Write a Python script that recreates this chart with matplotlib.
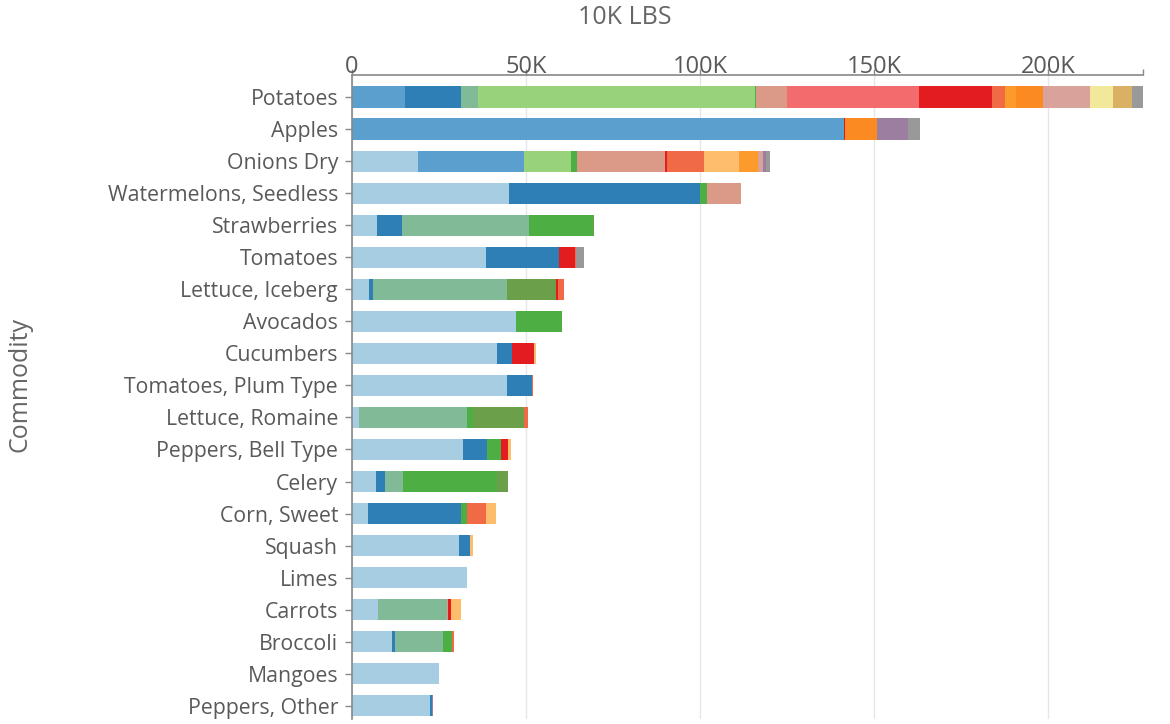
import matplotlib
matplotlib.use("Agg")
import matplotlib.pyplot as plt
import numpy as np
from matplotlib.ticker import FixedLocator

plt.rcParams['font.family'] = ['Open Sans', 'DejaVu Sans']

commodities = ["Potatoes", "Apples", "Onions Dry", "Watermelons, Seedless", "Strawberries",
               "Tomatoes", "Lettuce, Iceberg", "Avocados", "Cucumbers", "Tomatoes, Plum Type",
               "Lettuce, Romaine", "Peppers, Bell Type", "Celery", "Corn, Sweet", "Squash",
               "Limes", "Carrots", "Broccoli", "Mangoes", "Peppers, Other"]

# segment values (thousands of 10K lbs), one list per origin group, in stacking order
seg_light_blue  = [0, 0, 19.0, 45.0, 7.2, 38.4, 5.0, 47.0, 41.6, 44.5, 2.0, 31.8, 6.8, 4.6, 30.8, 33.0, 7.5, 11.4, 25.0, 22.5]
seg_mid_blue    = [15.2, 141.3, 30.5, 0, 0, 0, 0, 0, 0, 0, 0, 0, 0, 0, 0, 0, 0, 0, 0, 0]
seg_dark_blue   = [16.1, 0, 0, 55.0, 7.2, 21.1, 1.0, 0, 4.5, 7.2, 0, 6.9, 2.7, 26.7, 3.2, 0, 0, 1.0, 0, 0.5]
seg_muted_green = [5.0, 0, 0, 0, 36.6, 0, 38.5, 0, 0, 0, 31.0, 0, 5.1, 0, 0, 0, 19.7, 13.8, 0, 0]
seg_light_green = [79.5, 0, 13.4, 0, 0, 0, 0, 0, 0, 0, 0, 0, 0, 0, 0, 0, 0, 0, 0, 0]
seg_green       = [0.4, 0, 1.8, 2.0, 18.3, 0, 0, 13.3, 0, 0, 1.9, 4.1, 27.0, 1.7, 0, 0, 0, 2.4, 0, 0]
seg_olive       = [0, 0, 0, 0, 0.3, 0, 14.1, 0, 0, 0, 14.4, 0, 3.1, 0, 0, 0, 0, 0, 0, 0]
seg_salmon      = [8.8, 0, 25.2, 9.7, 0, 0, 0, 0, 0, 0, 0, 0, 0, 0, 0, 0, 0.3, 0, 0, 0]
seg_pink_red    = [38.0, 0, 0, 0, 0, 0, 0, 0, 0, 0, 0, 0, 0, 0, 0, 0, 0, 0, 0, 0]
seg_red         = [20.9, 0.4, 0.5, 0, 0, 4.5, 0.6, 0, 6.1, 0, 0, 2.1, 0, 0, 0, 0, 1.0, 0, 0, 0]
seg_red_orange  = [3.7, 0, 10.7, 0, 0, 0.3, 1.8, 0, 0, 0.3, 1.3, 0, 0, 5.5, 0, 0, 0, 0.7, 0, 0]
seg_light_orange= [0, 0, 10.2, 0, 0, 0, 0, 0, 0.8, 0, 0, 0.9, 0, 2.8, 0.9, 0, 2.9, 0, 0, 0]
seg_orange_light= [3.2, 0, 5.4, 0, 0, 0, 0, 0, 0, 0, 0, 0, 0, 0, 0, 0, 0, 0, 0, 0]
seg_orange      = [7.8, 9.3, 0, 0, 0, 0, 0, 0, 0, 0, 0, 0, 0, 0, 0, 0, 0, 0, 0, 0]
seg_pink        = [13.5, 0, 1.5, 0, 0, 0, 0, 0, 0, 0, 0, 0, 0, 0, 0, 0, 0, 0, 0, 0]
seg_yellow      = [6.6, 0, 0, 0, 0, 0, 0, 0, 0, 0, 0, 0, 0, 0, 0, 0, 0, 0, 0, 0]
seg_tan         = [5.4, 0, 0, 0, 0, 0, 0, 0, 0, 0, 0, 0, 0, 0, 0, 0, 0, 0, 0, 0]
seg_purple      = [0, 8.8, 0.7, 0, 0, 0, 0, 0, 0, 0, 0, 0, 0, 0, 0, 0, 0, 0, 0, 0.3]
seg_gray        = [3.2, 3.4, 1.2, 0, 0, 2.4, 0, 0, 0, 0, 0, 0, 0, 0, 0, 0, 0, 0, 0, 0]

x_ticks = [0, 50, 100, 150, 200]
x_tick_labels = ["0", "50K", "100K", "150K", "200K"]

segments = [seg_light_blue, seg_mid_blue, seg_dark_blue, seg_muted_green, seg_light_green,
            seg_green, seg_olive, seg_salmon, seg_pink_red, seg_red, seg_red_orange,
            seg_light_orange, seg_orange_light, seg_orange, seg_pink, seg_yellow, seg_tan,
            seg_purple, seg_gray]
colors = ["#a6cde2", "#5a9fcd", "#2d7fb6", "#80ba97", "#98d27a", "#4dae44", "#6b9f4a",
          "#db9a87", "#f26b6d", "#e31d1f", "#f06a46", "#fdbd6d", "#fd9a2c", "#fb8a22",
          "#d9a39c", "#f1e89a", "#d9b064", "#9c7ea0", "#999999"]

fig = plt.figure(figsize=(11.7, 7.24), dpi=100)
ax = fig.add_axes([352/1170, 1-719/724, (1143-352)/1170, (719-75)/724])

y = np.arange(len(commodities))
left = np.zeros(len(commodities))
for vals, col in zip(segments, colors):
    v = np.array(vals, dtype=float)
    ax.barh(y, v, left=left, height=0.66, color=col, edgecolor='none', zorder=2)
    left += v

xmax = left.max()
ax.set_xlim(0, xmax)
ax.set_ylim(19.41, -0.686)

ax.xaxis.tick_top()
ax.set_xticks(x_ticks)
ax.set_xticklabels(x_tick_labels)
ax.xaxis.set_minor_locator(FixedLocator([xmax]))
ax.set_yticks(y)
ax.set_yticklabels(commodities)

ax.grid(axis='x', color='#e6e6e6', linewidth=1, zorder=0)
ax.set_axisbelow(True)

for s in ['right', 'bottom']:
    ax.spines[s].set_visible(False)
for s in ['top', 'left']:
    ax.spines[s].set_color('#888888')
    ax.spines[s].set_linewidth(1.2)

ax.tick_params(axis='x', which='both', length=4, width=1, color='#888888', pad=-7,
               labelsize=17, labelcolor='#595959', top=True, bottom=False)
ax.tick_params(axis='y', length=5, width=1, color='#888888', pad=5,
               labelsize=15.3, labelcolor='#595959')

fig.text(625/1170, 1-18/724, "10K LBS", ha='center', va='center', fontsize=18, color='#666666')
fig.text(20/1170, 1-385/724, "Commodity", ha='center', va='center', rotation=90,
         fontsize=18, color='#666666')

fig.savefig("out.png", dpi=100)
